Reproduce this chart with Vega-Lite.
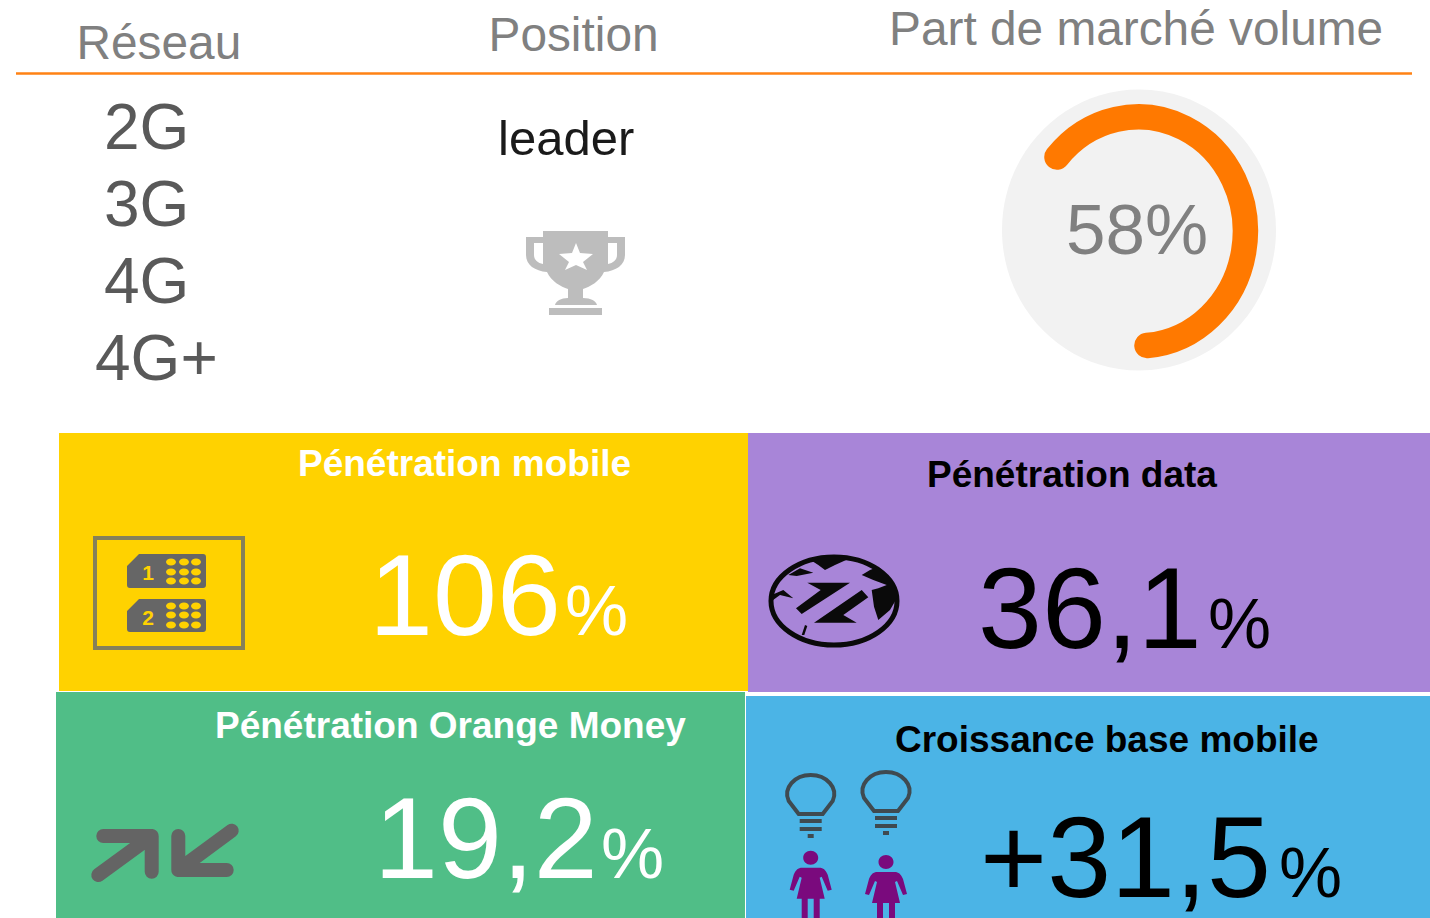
{"$schema":"https://vega.github.io/schema/vega-lite/v6.json","width":1430,"height":918,"padding":0,"autosize":{"type":"none"},"background":"white","config":{"view":{"stroke":null}},
"data":{"values":[
{"kind":"panel","label":"Pénétration mobile","x":59,"x2":748,"y":433,"y2":691},
{"kind":"panel","label":"Pénétration data","x":748,"x2":1430,"y":433,"y2":692},
{"kind":"panel","label":"Pénétration Orange Money","x":56,"x2":745,"y":692,"y2":918},
{"kind":"panel","label":"Croissance base mobile","x":746,"x2":1430,"y":696,"y2":918},
{"kind":"divider","x":16,"x2":1412,"y":73.5},
{"kind":"header","label":"Réseau","x":76.5,"y":58.5},
{"kind":"header","label":"Position","x":488.5,"y":50.5},
{"kind":"header","label":"Part de marché volume","x":889,"y":44.5},
{"kind":"network","label":"2G","x":104,"y":149},
{"kind":"network","label":"3G","x":104,"y":226},
{"kind":"network","label":"4G","x":104,"y":303},
{"kind":"network","label":"4G+","x":95,"y":380},
{"kind":"position","label":"leader","x":498,"y":155},
{"kind":"share","label":"58%","x":1066,"y":254},
{"kind":"title","label":"Pénétration mobile","x":298,"y":476,"tone":"light"},
{"kind":"title","label":"Pénétration data","x":927,"y":487,"tone":"dark"},
{"kind":"title","label":"Pénétration Orange Money","x":215,"y":738,"tone":"light"},
{"kind":"title","label":"Croissance base mobile","x":895,"y":752,"tone":"dark"},
{"kind":"value","label":"106","x":369,"y":635,"tone":"light"},
{"kind":"unit","label":"%","x":565,"y":635,"tone":"light"},
{"kind":"value","label":"36,1","x":978,"y":648,"tone":"dark"},
{"kind":"unit","label":"%","x":1208,"y":648,"tone":"dark"},
{"kind":"value","label":"19,2","x":374,"y":878,"tone":"light"},
{"kind":"unit","label":"%","x":601,"y":878,"tone":"light"},
{"kind":"value","label":"+31,5","x":980,"y":897,"tone":"dark"},
{"kind":"unit","label":"%","x":1279,"y":897,"tone":"dark"},
{"kind":"gauge","x":1139,"y":230},
{"kind":"gaugeArc","x":1140,"y":231},
{"kind":"trophy","x":576,"y":273},
{"kind":"sim","x":169,"y":593},
{"kind":"simNo","label":"1","x":148,"y":580},
{"kind":"simNo","label":"2","x":148,"y":625},
{"kind":"globe","x":834,"y":601},
{"kind":"arrows","x":165,"y":853},
{"kind":"bulb","x":810.7,"y":806},
{"kind":"bulb","x":886,"y":803},
{"kind":"woman","x":810.7,"y":881.7},
{"kind":"woman","x":886,"y":886}
]},
"encoding":{
"x":{"field":"x","type":"quantitative","axis":null,"scale":{"domain":[0,1430],"nice":false,"zero":false}},
"y":{"field":"y","type":"quantitative","axis":null,"scale":{"domain":[918,0],"nice":false,"zero":false}}},
"layer":[
{"transform":[{"filter":"datum.kind=='panel'"}],"mark":{"type":"rect"},"encoding":{"x2":{"field":"x2"},"y2":{"field":"y2"},"fill":{"field":"label","type":"nominal","legend":null,"scale":{"domain":["Pénétration mobile","Pénétration data","Pénétration Orange Money","Croissance base mobile"],"range":["#ffd200","#a885d8","#50be87","#4bb4e6"]}}}},
{"transform":[{"filter":"datum.kind=='divider'"}],"mark":{"type":"rule","color":"#ff8214","strokeWidth":2.5},"encoding":{"x2":{"field":"x2"}}},
{"transform":[{"filter":"datum.kind=='gauge'"}],"mark":{"type":"point","filled":true,"opacity":1,"size":4,"fill":"#f2f2f2","shape":"M-137,0 A137,140.5 0 1 1 137,0 A137,140.5 0 1 1 -137,0 Z"}},
{"transform":[{"filter":"datum.kind=='gaugeArc'"}],"mark":{"type":"point","filled":false,"opacity":1,"size":4,"stroke":"#ff7900","strokeWidth":25.5,"strokeCap":"round","shape":"M-83,-74 A107,114.5 0 1 1 7,114.5"}},
{"transform":[{"filter":"datum.kind=='trophy'"}],"mark":{"type":"point","filled":true,"opacity":1,"size":4,"fill":"#bdbdbd","shape":"M-33,-42 H32 V-36 H49 V-18 C49,-8 40,-2 28,-1 C24,8 14,14 7,16 V25 C15,25 20,28 21,32 H-21 C-20,28 -15,25 -8,25 V16 C-15,14 -25,8 -29,-1 C-41,-2 -50,-8 -50,-18 V-36 H-33 Z M-42,-30 V-18 C-42,-13 -38,-10 -33,-9 V-30 Z M41,-30 H32 V-9 C37,-10 41,-13 41,-18 Z M0,-30 L-4,-20 L-17,-19 L-7,-11 L-11,-3 L0,-8 L11,-3 L7,-11 L17,-19 L4,-20 Z M-27,35 H26 V42 H-27 Z"}},
{"transform":[{"filter":"datum.kind=='sim'"}],"mark":{"type":"point","filled":false,"opacity":1,"size":4,"stroke":"#85805a","strokeWidth":4,"shape":"M-74,-55 H74 V55 H-74 Z"}},
{"transform":[{"filter":"datum.kind=='sim'"}],"mark":{"type":"point","filled":true,"opacity":1,"size":4,"fill":"#666666","shape":"M-30,-39 H34 Q37,-39 37,-36 V-8 Q37,-5 34,-5 H-39 Q-42,-5 -42,-8 V-27 Z M-30,6 H34 Q37,6 37,9 V36 Q37,39 34,39 H-39 Q-42,39 -42,36 V18 Z"}},
{"transform":[{"filter":"datum.kind=='sim'"}],"mark":{"type":"point","filled":true,"opacity":1,"size":4,"fill":"#ffd200","shape":"M-3,-31 a5,3.5 0 1 0 10,0 a5,3.5 0 1 0 -10,0Z M10,-31 a5,3.5 0 1 0 10,0 a5,3.5 0 1 0 -10,0Z M22,-31 a5,3.5 0 1 0 10,0 a5,3.5 0 1 0 -10,0Z M-3,-21 a5,3.5 0 1 0 10,0 a5,3.5 0 1 0 -10,0Z M10,-21 a5,3.5 0 1 0 10,0 a5,3.5 0 1 0 -10,0Z M22,-21 a5,3.5 0 1 0 10,0 a5,3.5 0 1 0 -10,0Z M-3,-12 a5,3.5 0 1 0 10,0 a5,3.5 0 1 0 -10,0Z M10,-12 a5,3.5 0 1 0 10,0 a5,3.5 0 1 0 -10,0Z M22,-12 a5,3.5 0 1 0 10,0 a5,3.5 0 1 0 -10,0Z M-3,13 a5,3.5 0 1 0 10,0 a5,3.5 0 1 0 -10,0Z M10,13 a5,3.5 0 1 0 10,0 a5,3.5 0 1 0 -10,0Z M22,13 a5,3.5 0 1 0 10,0 a5,3.5 0 1 0 -10,0Z M-3,22 a5,3.5 0 1 0 10,0 a5,3.5 0 1 0 -10,0Z M10,22 a5,3.5 0 1 0 10,0 a5,3.5 0 1 0 -10,0Z M22,22 a5,3.5 0 1 0 10,0 a5,3.5 0 1 0 -10,0Z M-3,32 a5,3.5 0 1 0 10,0 a5,3.5 0 1 0 -10,0Z M10,32 a5,3.5 0 1 0 10,0 a5,3.5 0 1 0 -10,0Z M22,32 a5,3.5 0 1 0 10,0 a5,3.5 0 1 0 -10,0Z"}},
{"transform":[{"filter":"datum.kind=='simNo'"}],"mark":{"type":"text","font":"Liberation Sans","fontWeight":"bold","fontSize":21,"fill":"#ffd200","baseline":"alphabetic","align":"center"},"encoding":{"text":{"field":"label"}}},
{"transform":[{"filter":"datum.kind=='globe'"}],"mark":{"type":"point","filled":false,"opacity":1,"size":4,"stroke":"#0a0a0a","strokeWidth":5,"shape":"M-63,0 A63,44 0 1 1 63,0 A63,44 0 1 1 -63,0 Z"}},
{"transform":[{"filter":"datum.kind=='globe'"}],"mark":{"type":"point","filled":true,"opacity":1,"size":4,"fill":"#0a0a0a","shape":"M-22.3,-40.3 L-4,-45 L16,-42.7 L1,-36 L-9,-31 L-15.7,-36 Z M-45.7,-26 L-34,-32.7 L-20.7,-28.3 L-37.3,-25 Z M-62.3,-6 L-50.7,-11 L-40.7,-2.7 L-54,-6 L-64,1.3 Z M27.7,-26 L39.3,-21 L52.7,-16 L44.3,-12.7 L37.7,-11 L40,5.7 L44.3,19 L56,9 L63.7,-4.3 L57.7,-21 L44.3,-34.3 L36,-31 Z M-29,24 L-26.7,25 L-29.7,34 L-32.3,34 Z M-26.7,-18.3 L16,-18.3 L-32.3,13 L-38,7.3 L-13.3,-11 Z M27.7,-11 L34.3,-3.7 L9.3,14 L22.7,21.7 L-20,21.7 Z"}},
{"transform":[{"filter":"datum.kind=='arrows'"}],"mark":{"type":"point","filled":false,"opacity":1,"size":4,"stroke":"#646464","strokeWidth":14,"strokeCap":"round","strokeJoin":"round","shape":"M-66.7,22 L-13.3,-17 M-61.7,-17 H-13.3 V18.7 M66.7,-22.3 L13.3,17 M13.3,-17 V17 H61.7"}},
{"transform":[{"filter":"datum.kind=='bulb'"}],"mark":{"type":"point","filled":false,"opacity":1,"size":4,"stroke":"#3f4a50","strokeWidth":4,"shape":"M-12,8 L-22,-5 C-28,-18 -16,-31 0,-31 C16,-31 28,-18 22,-5 L12,8 Z M-11,15 H11 M-11,23 H11 M-3,30 H3"}},
{"transform":[{"filter":"datum.kind=='woman'"}],"mark":{"type":"point","filled":true,"opacity":1,"size":4,"fill":"#7a0a7d","shape":"M-7.5,-24 a7.5,7 0 1 1 15,0 a7.5,7 0 1 1 -15,0Z M-10,-14 H10 C14,-13 15,-11 17,-7 L21,8 L17,9 L11,-5 L9,-4 L14,17 H9 V40 H3 V17 H-3 V40 H-9 V17 H-14 L-9,-4 L-11,-5 L-17,9 L-21,8 L-17,-7 C-15,-11 -14,-13 -10,-14 Z"}},
{"transform":[{"filter":"datum.kind=='header'"}],"mark":{"type":"text","font":"Liberation Sans","fontSize":47.8,"fill":"#808080","baseline":"alphabetic","align":"left"},"encoding":{"text":{"field":"label"}}},
{"transform":[{"filter":"datum.kind=='network'"}],"mark":{"type":"text","font":"Liberation Sans","fontSize":64,"fill":"#595959","baseline":"alphabetic","align":"left"},"encoding":{"text":{"field":"label"}}},
{"transform":[{"filter":"datum.kind=='position'"}],"mark":{"type":"text","font":"Liberation Sans","fontSize":49,"fill":"#1a1a1a","baseline":"alphabetic","align":"left"},"encoding":{"text":{"field":"label"}}},
{"transform":[{"filter":"datum.kind=='share'"}],"mark":{"type":"text","font":"Liberation Sans","fontSize":71,"fill":"#808080","baseline":"alphabetic","align":"left"},"encoding":{"text":{"field":"label"}}},
{"transform":[{"filter":"datum.kind=='title'"}],"mark":{"type":"text","font":"Liberation Sans","fontWeight":"bold","fontSize":37,"baseline":"alphabetic","align":"left"},"encoding":{"text":{"field":"label"},"color":{"field":"tone","type":"nominal","legend":null,"scale":{"domain":["light","dark"],"range":["#ffffff","#000000"]}}}},
{"transform":[{"filter":"datum.kind=='value'"}],"mark":{"type":"text","font":"Liberation Sans","fontSize":115,"baseline":"alphabetic","align":"left"},"encoding":{"text":{"field":"label"},"color":{"field":"tone","type":"nominal","legend":null,"scale":{"domain":["light","dark"],"range":["#ffffff","#000000"]}}}},
{"transform":[{"filter":"datum.kind=='unit'"}],"mark":{"type":"text","font":"Liberation Sans","fontSize":71,"baseline":"alphabetic","align":"left"},"encoding":{"text":{"field":"label"},"color":{"field":"tone","type":"nominal","legend":null,"scale":{"domain":["light","dark"],"range":["#ffffff","#000000"]}}}}
]}
